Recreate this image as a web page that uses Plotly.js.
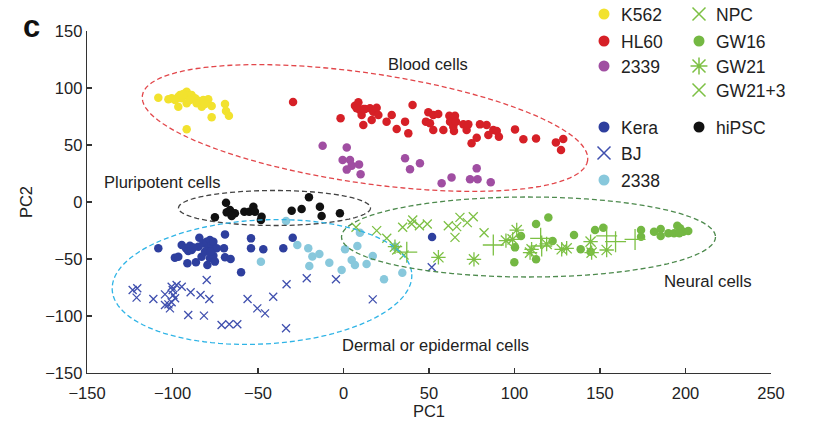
<!DOCTYPE html>
<html>
<head>
<meta charset="utf-8">
<script src="https://cdn.plot.ly/plotly-3.0.1.min.js"></script>
<style>html,body{margin:0;padding:0;background:#fff;}#chart{width:815px;height:425px;}</style>
</head>
<body>
<div id="chart"></div>
<script>
// ---- Data (PC1, PC2) ----
const k562X = [-108.3,-102.4,-100.5,-96.6,-95.6,-94.6,-92.7,-91.7,-90.8,-88.8,-86.8,-84.9,-83.9,-82.0,-82.9,-79.1,-77.1,-96.6,-91.7,-69.3,-68.7,-67.0,-77.1,-91.7,-94.0,-89.8,-98.5,-85.9,-81.0];
const k562Y = [91.5,90.1,91.0,92.4,93.9,91.0,95.3,96.8,93.0,93.9,91.0,88.9,86.6,89.5,83.6,90.1,84.2,83.6,86.6,86.0,79.8,75.7,74.3,63.8,94.5,89.5,89.5,86.6,86.0];

const hl60X = [-29.5,-1.7,6.7,8.7,9.6,10.6,11.6,12.6,15.5,16.5,17.4,19.4,20.4,25.2,28.2,31.1,36.0,37.9,40.4,48.2,49.6,50.6,52.5,52.5,55.4,58.4,61.9,62.3,64.2,64.6,65.2,65.8,70.1,72.0,73.0,74.9,77.9,79.8,83.7,84.7,87.6,89.6,90.9,100.3,105.2,112.6,124.2,128.5,127.2,11.6,7.7];
const hl60Y = [87.7,73.4,84.5,87.4,80.7,76.3,67.5,81.6,82.2,71.9,79.2,82.7,76.3,70.5,76.3,64.0,70.5,60.2,85.1,70.5,78.7,69.0,76.3,63.2,77.2,63.2,75.7,70.5,66.1,62.3,75.7,70.5,68.1,63.2,68.1,51.5,56.4,68.1,67.5,58.8,63.2,62.3,57.3,63.7,55.0,55.8,52.3,55.3,45.6,81.6,82.2];

const c2339X = [-12.2,1.9,-0.5,3.8,4.8,1.9,9.1,10.0,36.0,38.9,44.7,57.4,63.2,74.0,77.9,78.4,86.1];
const c2339Y = [49.4,47.9,36.8,36.8,31.9,28.4,33.0,24.3,38.3,28.7,33.9,16.4,21.6,19.9,29.5,19.9,17.3];

const hipscX = [-68.7,-75.2,-68.3,-66.4,-63.5,-65.4,-58.0,-55.1,-52.7,-51.8,-47.9,-48.3,-30.3,-24.5,-20.2,-13.8,-12.8,-2.1];
const hipscY = [-0.6,-13.4,-9.1,-7.0,-9.9,-12.3,-8.5,-8.5,-4.1,-8.5,-12.9,-15.8,-7.6,-6.1,4.1,-4.1,-12.3,-9.9];

const keraX = [-108.3,-98.6,-96.6,-94.6,-92.1,-90.8,-89.8,-88.8,-91.3,-86.3,-84.3,-84.9,-83.0,-82.0,-80.1,-79.6,-79.1,-78.1,-78.1,-77.1,-76.1,-75.2,-76.1,-74.2,-69.3,-69.9,-69.3,-66.0,-59.9,-54.1,-54.1,-46.9,-35.2,-29.7,51.8,-81.0,-87.8,-77.7];
const keraY = [-40.6,-48.8,-48.0,-37.7,-40.6,-43.0,-38.3,-42.1,-53.8,-52.9,-31.3,-39.2,-48.0,-36.3,-34.8,-55.3,-40.6,-49.4,-33.3,-37.7,-47.1,-52.3,-34.8,-40.6,-28.4,-40.6,-48.5,-50.0,-61.7,-31.9,-40.6,-41.5,-40.6,-31.3,-30.7,-43.6,-40.0,-43.6];

const bjX = [-123.3,-120.6,-121.0,-111.2,-104.4,-99.9,-99.5,-100.5,-97.6,-94.6,-98.5,-104.4,-102.4,-101.5,-100.5,-89.4,-90.8,-83.6,-81.6,-80.0,-78.5,-71.3,-66.8,-62.1,-56.1,-50.4,-45.9,-41.1,-33.3,-33.6,-21.5,-4.4,17.1,51.6];
const bjY = [-77.2,-75.7,-83.9,-85.1,-81.0,-77.2,-81.6,-74.3,-72.8,-74.3,-84.5,-90.4,-89.8,-93.3,-88.0,-79.2,-99.1,-81.6,-99.7,-68.4,-85.1,-107.9,-107.3,-107.3,-85.1,-93.3,-97.7,-83.1,-72.2,-110.8,-66.9,-67.8,-85.4,-57.3];

const c2338X = [-33.6,-27.0,-20.6,-20.0,-18.2,-14.1,-8.3,-1.1,0.9,4.8,6.7,8.1,9.6,13.5,17.1,23.7,30.1,34.4,-48.3];
const c2338Y = [-16.7,-37.7,-40.6,-56.1,-47.9,-45.6,-53.2,-59.6,-41.5,-50.9,-55.3,-38.6,-26.9,-54.4,-47.4,-67.8,-39.2,-62.0,-52.4];

const npcX = [7.3,19.4,25.3,31.1,35.4,34.6,40.5,39.9,44.4,49.0,61.3,66.2,68.1,72.4,75.9,65.2,82.2];
const npcY = [-22.2,-25.1,-31.8,-42.1,-46.5,-22.2,-15.8,-19.3,-20.8,-19.3,-20.8,-21.6,-13.5,-18.1,-12.9,-31.0,-26.9];

const gw16X = [112.6,119.8,103.8,122.3,100.3,99.9,112.6,134.8,138.7,147.1,151.9,144.5,174.0,174.0,181.6,185.5,185.5,190.0,193.3,195.2,196.8,198.7,201.6,196.4];
const gw16Y = [-19.3,-13.5,-29.8,-34.2,-39.8,-52.9,-50.3,-28.9,-41.5,-24.6,-22.5,-43.6,-24.6,-30.4,-26.0,-23.7,-29.8,-27.5,-27.5,-20.8,-23.1,-26.0,-25.4,-27.5];

const gw21X = [30.1,55.5,76.3,95.0,98.9,101.3,110.0,109.1,118.8,127.6,130.5,144.5,145.1,153.9];
const gw21Y = [-39.2,-48.5,-50.3,-33.9,-32.8,-24.6,-41.5,-44.4,-36.8,-41.5,-40.6,-34.8,-44.4,-42.1];

const gw213X = [37.0,87.6,115.3,115.9,153.9,159.1,170.5];
const gw213Y = [-44.0,-37.7,-31.9,-38.6,-29.8,-34.8,-32.8];

const xTicks = [-150,-100,-50,0,50,100,150,200,250];
const yTicks = [-150,-100,-50,0,50,100,150];

// legend entries
const legendNames = ['K562','HL60','2339','Kera','BJ','2338','NPC','GW16','GW21','GW21+3','hiPSC'];

// ---- styling ----
const COL = {
  k562:'#f2e22e', hl60:'#d62027', c2339:'#a04ea2', kera:'#2e3f9e', bj:'#3f4fae',
  c2338:'#88c8dc', npc:'#7dc044', gw16:'#74b843', hipsc:'#111111'
};
const FONT = 'Liberation Sans, Arial, Helvetica, sans-serif';

function dots(x,y,color,name){
  return {type:'scatter',mode:'markers',x:x,y:y,name:name,showlegend:false,
    marker:{symbol:'circle',size:8.5,color:color,line:{width:0}},hoverinfo:'skip'};
}
function sym(x,y,color,name,symbol,size,w){
  return {type:'scatter',mode:'markers',x:x,y:y,name:name,showlegend:false,
    marker:{symbol:symbol,size:size,color:color,line:{width:w,color:color}},hoverinfo:'skip'};
}

const traces = [
  sym(bjX,bjY,COL.bj,'BJ','x-thin-open',8,1.3),
  dots(c2338X,c2338Y,COL.c2338,'2338'),
  dots(keraX,keraY,COL.kera,'Kera'),
  dots(hipscX,hipscY,COL.hipsc,'hiPSC'),
  dots(k562X,k562Y,COL.k562,'K562'),
  dots(hl60X,hl60Y,COL.hl60,'HL60'),
  dots(c2339X,c2339Y,COL.c2339,'2339'),
  sym(npcX,npcY,COL.npc,'NPC','x-thin-open',9,1.3),
  dots(gw16X,gw16Y,COL.gw16,'GW16'),
  sym(gw21X,gw21Y,COL.npc,'GW21','asterisk-open',12,1.3),
  sym(gw213X,gw213Y,COL.npc,'GW21+3','cross-thin-open',15,1.3)
];

// ---- pixel -> paper helpers ----
const L=87, R=771, T=31, B=373;
const PX = px => (px-L)/(R-L), PY = py => (B-py)/(B-T);

// ---- legend drawn with shapes + annotations ----
const legendPos = {
  'K562':[604,14,'dot',COL.k562], 'HL60':[604,41,'dot',COL.hl60], '2339':[604,66,'dot',COL.c2339],
  'Kera':[604,127,'dot',COL.kera], 'BJ':[604,153,'x',COL.bj], '2338':[604,180,'dot',COL.c2338],
  'NPC':[699,14,'x',COL.npc], 'GW16':[699,41,'dot',COL.gw16], 'GW21':[699,66,'ast',COL.npc],
  'GW21+3':[699,90,'x',COL.npc], 'hiPSC':[699,127,'dot',COL.hipsc]
};
const annotations = [];
const shapes = [];
function seg(x1,y1,x2,y2){ return 'M'+PX(x1)+','+PY(y1)+'L'+PX(x2)+','+PY(y2); }
legendNames.forEach(n=>{
  const p = legendPos[n], cx=p[0], cy=p[1], col=p[3];
  if(p[2]==='dot'){
    const r=5.5;
    shapes.push({type:'circle',xref:'paper',yref:'paper',x0:PX(cx-r),x1:PX(cx+r),y0:PY(cy+r),y1:PY(cy-r),
      fillcolor:col,line:{width:0}});
  } else {
    const h=6.5;
    let d = seg(cx-h,cy-h,cx+h,cy+h)+seg(cx-h,cy+h,cx+h,cy-h);
    if(p[2]==='ast'){ d += seg(cx-h*1.3,cy,cx+h*1.3,cy)+seg(cx,cy-h*1.3,cx,cy+h*1.3); }
    shapes.push({type:'path',xref:'paper',yref:'paper',path:d,line:{color:col,width:1.5}});
  }
  annotations.push({xref:'paper',yref:'paper',x:PX(cx+15),y:PY(cy+1),text:n,showarrow:false,xanchor:'left',yanchor:'middle',
    font:{family:FONT,size:17.5,color:'#222'}});
});

// region labels
[['Blood cells',428,64,16.5],['Pluripotent cells',162,182,16.5],['Dermal or epidermal cells',435,345,16.5],['Neural cells',708,281,16.8]].forEach(a=>{
  annotations.push({xref:'paper',yref:'paper',x:PX(a[1]),y:PY(a[2]),text:a[0],showarrow:false,xanchor:'center',yanchor:'middle',
    font:{family:FONT,size:a[3],color:'#222'}});
});
annotations.push({xref:'paper',yref:'paper',x:PX(31),y:PY(26),text:'<b>c</b>',showarrow:false,xanchor:'center',yanchor:'middle',
  font:{family:FONT,size:31,color:'#111'}});

// ---- dashed ellipses (pixel space -> paper) ----
function ellipse(cx,cy,a,b,deg){
  const th = deg*Math.PI/180, c=Math.cos(th), s=Math.sin(th);
  let d='';
  for(let i=0;i<=120;i++){
    const t = i/120*2*Math.PI;
    const x = cx + a*Math.cos(t)*c - b*Math.sin(t)*s;
    const y = cy + a*Math.cos(t)*s + b*Math.sin(t)*c;
    d += (i===0?'M':'L') + PX(x).toFixed(5)+','+PY(y).toFixed(5);
  }
  return d+'Z';
}
shapes.push(
  {type:'path',xref:'paper',yref:'paper',path:ellipse(365,128,225,55,8.3),line:{color:'#e2464a',width:1.3,dash:'5px,3px'}},
  {type:'path',xref:'paper',yref:'paper',path:ellipse(274.5,208,96,17.5,0),line:{color:'#444',width:1.3,dash:'5px,3px'}},
  {type:'path',xref:'paper',yref:'paper',path:ellipse(262,282,150,62,-3),line:{color:'#2fb4e6',width:1.3,dash:'5px,3px'}},
  {type:'path',xref:'paper',yref:'paper',path:ellipse(528.5,237,187,40,0),line:{color:'#4d8a4d',width:1.3,dash:'5px,3px'}}
);

const layout = {
  width:815,height:425,margin:{l:L,r:815-R,t:T,b:425-B},
  paper_bgcolor:'#fff',plot_bgcolor:'#fff',showlegend:false,
  font:{family:FONT,size:16,color:'#222'},
  xaxis:{range:[-150,250],tickvals:xTicks,ticks:'inside',ticklen:5,tickwidth:1.2,tickcolor:'#333',
    showline:true,linecolor:'#333',linewidth:1.3,showgrid:false,zeroline:false,ticklabelstandoff:5,
    tickfont:{family:FONT,size:16.5,color:'#222'},title:{text:'PC1',font:{family:FONT,size:16.5,color:'#222'},standoff:4}},
  yaxis:{range:[-150,150],tickvals:yTicks,ticks:'inside',ticklen:5,tickwidth:1.2,tickcolor:'#333',
    showline:true,linecolor:'#333',linewidth:1.3,showgrid:false,zeroline:false,
    tickfont:{family:FONT,size:16.5,color:'#222'},title:{text:'PC2',font:{family:FONT,size:16.5,color:'#222'},standoff:8}},
  shapes:shapes,annotations:annotations
};
Plotly.newPlot('chart',traces,layout,{displayModeBar:false,staticPlot:true});
</script>
</body>
</html>
